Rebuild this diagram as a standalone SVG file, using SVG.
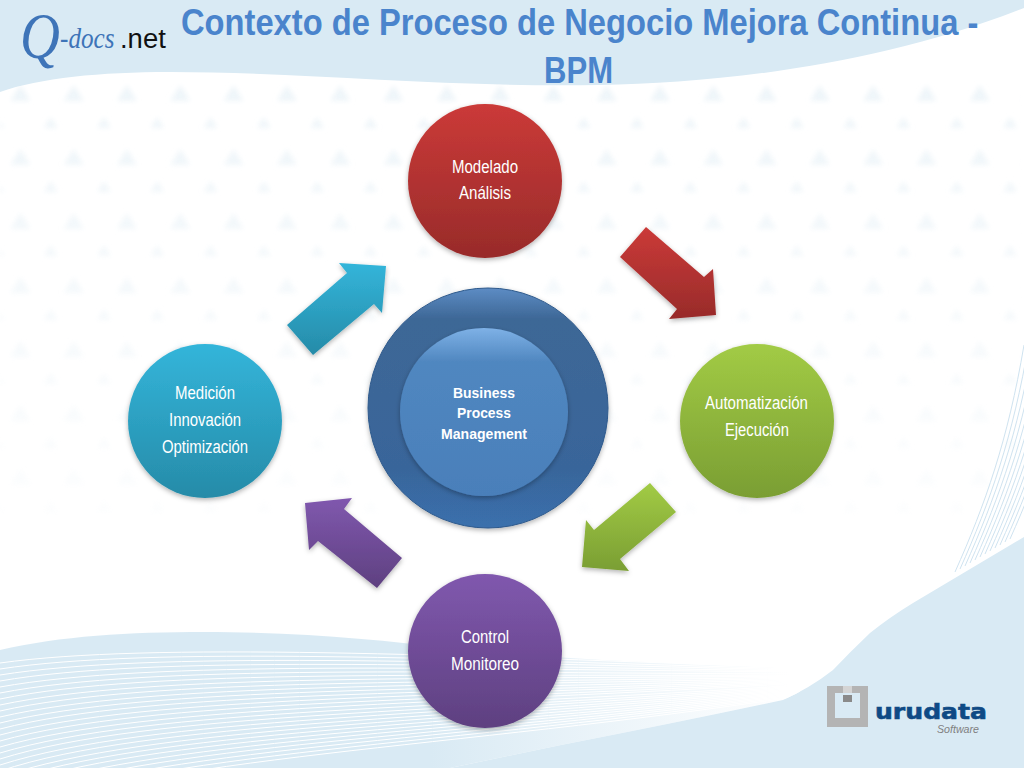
<svg xmlns="http://www.w3.org/2000/svg" width="1024" height="768" viewBox="0 0 1024 768">
<defs>
<linearGradient id="gr" x1="0" y1="0" x2="0" y2="1"><stop offset="0" stop-color="#cb3a38"/><stop offset="1" stop-color="#982b2a"/></linearGradient>
<linearGradient id="gg" x1="0" y1="0" x2="0" y2="1"><stop offset="0" stop-color="#a2cb45"/><stop offset="1" stop-color="#7a9e33"/></linearGradient>
<linearGradient id="gt" x1="0" y1="0" x2="0" y2="1"><stop offset="0" stop-color="#33b5da"/><stop offset="1" stop-color="#268ba8"/></linearGradient>
<linearGradient id="gp" x1="0" y1="0" x2="0" y2="1"><stop offset="0" stop-color="#8058ae"/><stop offset="1" stop-color="#5e4080"/></linearGradient>
<linearGradient id="gb1" x1="0" y1="0" x2="0" y2="1"><stop offset="0" stop-color="#5d8cc4"/><stop offset="0.13" stop-color="#3d6796"/><stop offset="0.75" stop-color="#39659a"/><stop offset="1" stop-color="#3a70ad"/></linearGradient>
<linearGradient id="gb2" x1="0" y1="0" x2="0" y2="1"><stop offset="0" stop-color="#7eb1e6"/><stop offset="0.2" stop-color="#5087c0"/><stop offset="1" stop-color="#4a7fba"/></linearGradient>
<linearGradient id="band" gradientUnits="userSpaceOnUse" x1="430" y1="0" x2="790" y2="0"><stop offset="0" stop-color="#d9eaf4"/><stop offset="1" stop-color="#d9eaf4" stop-opacity="0"/></linearGradient>
<linearGradient id="fade" x1="0" y1="0" x2="0" y2="1"><stop offset="0" stop-color="#fff"/><stop offset="1" stop-color="#fff" stop-opacity="0.15"/></linearGradient>
<filter id="sh" x="-20%" y="-20%" width="140%" height="140%"><feDropShadow dx="0" dy="2" stdDeviation="2.5" flood-color="#000" flood-opacity="0.3"/></filter>
<filter id="bl" x="-2%" y="-2%" width="104%" height="104%"><feGaussianBlur stdDeviation="2.5"/></filter>
<pattern id="tri" width="53.3" height="64" patternUnits="userSpaceOnUse"><path d="M20.4 21L30.4 37H10.4Z M50.7 53L60.7 69H40.7Z M-2.6 53L7.4 69H-12.6Z" fill="#eef5f9"/></pattern>
<mask id="fm" maskUnits="userSpaceOnUse" x="0" y="0" width="1024" height="768"><rect x="0" y="80" width="1024" height="440" fill="url(#fade)"/></mask>
<clipPath id="main"><path d="M0 92C40 78 100 72 170 72C300 72 450 88 600 85C720 83 880 65 1024 8V537L913 603Q890 617 870 633Q850 652 833 670Q810 688 783 700Q680 722 561 745L450 768H0Z"/></clipPath>
<path id="rl" d="M955 572C985 505 1008 440 1024 345"/>
</defs>
<style>
.lb{font-family:"Liberation Sans",Arial,sans-serif;font-size:17.5px;fill:#fff}
.bp{font-family:"Liberation Sans",Arial,sans-serif;font-size:15.5px;font-weight:700;fill:#fff}
.tt{font-family:"Liberation Sans",Arial,sans-serif;font-size:37px;font-weight:700;fill:#4a84cc}
.wl path{fill:none;stroke:#fff;stroke-width:1}
.rl use{fill:none;stroke:#cfe3f0;stroke-width:1}
</style>
<g id="background">
<rect width="1024" height="768" fill="#d9eaf4"/>
<path d="M0 92C40 78 100 72 170 72C300 72 450 88 600 85C720 83 880 65 1024 8V537L913 603Q890 617 870 633Q850 652 833 670Q810 688 783 700Q680 722 561 745L450 768H0Z" fill="#fff"/>
<g mask="url(#fm)"><rect y="70" width="1024" height="460" fill="url(#tri)" filter="url(#bl)" clip-path="url(#main)"/></g>
<g clip-path="url(#main)">
<path d="M0 650C60 636 130 632 204 632C300 632 380 640 450 648C560 660 680 664 800 668V768H0Z" fill="url(#band)"/>
<g class="wl">
<path d="M0 663C150 642 450 655 800 668"/><path d="M0 669C150 646 450 659 800 669"/><path d="M0 675C150 651 450 662 800 670"/><path d="M0 681C150 655 450 666 800 671"/><path d="M0 687C150 660 450 669 800 672"/><path d="M0 693C150 664 450 673 800 674"/><path d="M0 699C150 668 450 677 800 675"/><path d="M0 705C150 673 450 680 800 676"/><path d="M0 711C150 677 450 684 800 677"/><path d="M0 717C150 682 450 687 800 678"/><path d="M0 723C150 686 450 691 800 679"/><path d="M0 729C150 690 450 695 800 680"/><path d="M0 735C150 695 450 698 800 681"/><path d="M0 741C150 699 450 702 800 682"/><path d="M0 747C150 704 450 705 800 683"/><path d="M0 753C150 708 450 709 800 685"/><path d="M0 759C150 712 450 713 800 686"/><path d="M0 765C150 717 450 716 800 687"/><path d="M0 771C150 721 450 720 800 688"/><path d="M0 777C150 726 450 723 800 689"/><path d="M0 783C150 730 450 727 800 690"/><path d="M0 789C150 734 450 731 800 691"/><path d="M0 795C150 739 450 734 800 692"/><path d="M0 801C150 743 450 738 800 693"/><path d="M0 807C150 748 450 741 800 694"/><path d="M0 813C150 752 450 745 800 695"/><path d="M0 819C150 756 450 749 800 696"/>
</g>
<g class="rl">
<use href="#rl"/><use href="#rl" x="5" y="-3"/><use href="#rl" x="10" y="-6"/><use href="#rl" x="15" y="-9"/><use href="#rl" x="20" y="-12"/><use href="#rl" x="25" y="-15"/><use href="#rl" x="30" y="-18"/><use href="#rl" x="35" y="-21"/><use href="#rl" x="40" y="-24"/><use href="#rl" x="45" y="-27"/><use href="#rl" x="50" y="-30"/><use href="#rl" x="55" y="-33"/>
</g>
</g>
</g>
<g id="logo-qdocs">
<text transform="translate(20 58) scale(.85 1)" font-family="Liberation Serif,serif" font-size="65" font-style="italic" fill="#3e74b8">Q</text>
<text transform="translate(60 48) scale(.84 1)" font-family="Liberation Serif,serif" font-size="30" font-style="italic" fill="#3e74b8">-docs</text>
<text transform="translate(120 48) scale(.98 1)" font-family="Liberation Sans,sans-serif" font-size="28" fill="#111">.net</text>
</g>
<g id="title">
<text class="tt" transform="translate(181 35) scale(.8836 1)">Contexto de Proceso de Negocio Mejora Continua -</text>
<text class="tt" transform="translate(544 83) scale(.84 1)">BPM</text>
</g>
<g id="connectors">
<path filter="url(#sh)" fill="url(#gr)" d="M646 227L704 277L713 269L716 315L669 319L677 309L620 257Z"/>
<path filter="url(#sh)" fill="url(#gg)" d="M650 483L676 512L620 559L629 571L582 567L586 520L594 530Z"/>
<path filter="url(#sh)" fill="url(#gp)" d="M305 503L352 498L344 509L402 558L377 588L318 541L309 550Z"/>
<path filter="url(#sh)" fill="url(#gt)" d="M287 325L347 273L339 263L386 266L382 313L374 304L313 355Z"/>
</g>
<g id="node-center">
<circle cx="488" cy="408" r="120" fill="url(#gb1)" stroke="#2f5a8c" stroke-width="1" filter="url(#sh)"/>
<circle cx="484" cy="412" r="84" fill="url(#gb2)" filter="url(#sh)"/>
<text class="bp" x="453" y="398" textLength="62" lengthAdjust="spacingAndGlyphs">Business</text>
<text class="bp" x="457" y="418" textLength="54" lengthAdjust="spacingAndGlyphs">Process</text>
<text class="bp" x="441" y="439" textLength="86" lengthAdjust="spacingAndGlyphs">Management</text>
</g>
<g id="node-modelado"><circle cx="485" cy="181" r="77" fill="url(#gr)" filter="url(#sh)"/>
<text class="lb" x="452" y="173" textLength="66" lengthAdjust="spacingAndGlyphs">Modelado</text>
<text class="lb" x="459" y="199" textLength="52" lengthAdjust="spacingAndGlyphs">Análisis</text></g>
<g id="node-automatizacion"><circle cx="757" cy="421" r="77" fill="url(#gg)" filter="url(#sh)"/>
<text class="lb" x="705" y="409" textLength="103" lengthAdjust="spacingAndGlyphs">Automatización</text>
<text class="lb" x="725" y="436" textLength="64" lengthAdjust="spacingAndGlyphs">Ejecución</text></g>
<g id="node-control"><circle cx="485" cy="651" r="77" fill="url(#gp)" filter="url(#sh)"/>
<text class="lb" x="461" y="643" textLength="48" lengthAdjust="spacingAndGlyphs">Control</text>
<text class="lb" x="451" y="670" textLength="68" lengthAdjust="spacingAndGlyphs">Monitoreo</text></g>
<g id="node-medicion"><circle cx="205" cy="421" r="77" fill="url(#gt)" filter="url(#sh)"/>
<text class="lb" x="175" y="399" textLength="60" lengthAdjust="spacingAndGlyphs">Medición</text>
<text class="lb" x="169" y="426" textLength="72" lengthAdjust="spacingAndGlyphs">Innovación</text>
<text class="lb" x="162" y="453" textLength="86" lengthAdjust="spacingAndGlyphs">Optimización</text></g>
<g id="logo-urudata">
<path d="M827 686H868V727H827ZM835 693V718H860V693Z" fill="#b4b4b4" fill-rule="evenodd"/>
<rect x="843" y="686" width="9" height="7" fill="#d4d4d4"/>
<rect x="843" y="695" width="9" height="7" fill="#8a8a8a"/>
<text x="875" y="719" font-family="DejaVu Sans,sans-serif" font-size="22" font-weight="700" fill="#0f4a85" stroke="#0f4a85" stroke-width=".6" textLength="112" lengthAdjust="spacingAndGlyphs">urudata</text>
<text x="937" y="733" font-family="Liberation Sans,sans-serif" font-size="11" font-style="italic" fill="#808080" textLength="42" lengthAdjust="spacingAndGlyphs">Software</text>
</g>
</svg>
